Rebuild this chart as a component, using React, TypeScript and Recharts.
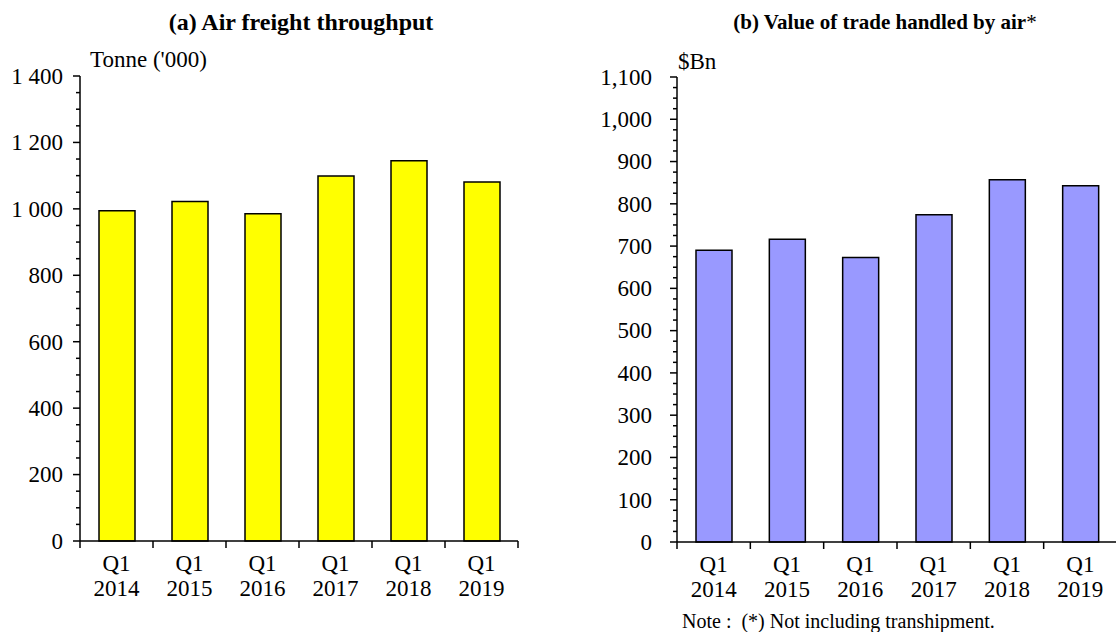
import React from 'react';
import { BarChart, Bar, XAxis, YAxis } from 'recharts';

const periods = ['Q1 2014', 'Q1 2015', 'Q1 2016', 'Q1 2017', 'Q1 2018', 'Q1 2019'];
const freightTonnes = [994, 1022, 985, 1099, 1145, 1081];
const tradeValueBn = [690, 716, 673, 774, 857, 843];
const freightTicks = [0, 50, 100, 150, 200, 250, 300, 350, 400, 450, 500, 550, 600, 650, 700, 750, 800, 850, 900, 950, 1000, 1050, 1100, 1150, 1200, 1250, 1300, 1350, 1400];
const tradeTicks = [0, 25, 50, 75, 100, 125, 150, 175, 200, 225, 250, 275, 300, 325, 350, 375, 400, 425, 450, 475, 500, 525, 550, 575, 600, 625, 650, 675, 700, 725, 750, 775, 800, 825, 850, 875, 900, 925, 950, 975, 1000, 1025, 1050, 1075, 1100];

const freightData = periods.map((p, i) => ({ period: p, value: freightTonnes[i] }));
const tradeData = periods.map((p, i) => ({ period: p, value: tradeValueBn[i] }));

const FONT = '"Liberation Serif", "Times New Roman", serif';

const fmtSpace = (v: number) =>
  v >= 1000 ? `${Math.floor(v / 1000)} ${String(v % 1000).padStart(3, '0')}` : String(v);
const fmtComma = (v: number) => v.toLocaleString('en-US');

const makeYTick = (majorStep: number, fmt: (v: number) => string, gap: number) => (props: any) => {
  const { x, y, payload } = props;
  const v = Number(payload.value);
  const major = v % majorStep === 0;
  return (
    <g>
      <line x1={x - (major ? 7 : 4)} x2={x} y1={y} y2={y} stroke="#000" strokeWidth={1.5} />
      {major && (
        <text x={x - gap} y={y} dy="0.34em" textAnchor="end" fontFamily={FONT} fontSize={23} fill="#000">
          {fmt(v)}
        </text>
      )}
    </g>
  );
};

const XTick = (props: any) => {
  const { x, y, payload, index, visibleTicksCount } = props;
  const half = payload && payload.offset ? payload.offset : 36.5;
  const parts = String(payload.value).split(' ');
  const isLast = visibleTicksCount ? index === visibleTicksCount - 1 : payload.value === periods[periods.length - 1];
  return (
    <g>
      <line x1={x - half} x2={x - half} y1={y} y2={y + 7} stroke="#000" strokeWidth={1.5} />
      {isLast && <line x1={x + half} x2={x + half} y1={y} y2={y + 7} stroke="#000" strokeWidth={1.5} />}
      <text x={x} y={y + 30} textAnchor="middle" fontFamily={FONT} fontSize={23} fill="#000">
        <tspan x={x}>{parts[0]}</tspan>
        <tspan x={x} dy={25}>{parts[1]}</tspan>
      </text>
    </g>
  );
};

const axisLine = { stroke: '#000', strokeWidth: 1.5 };

export default function App() {
  return (
    <div style={{ position: 'absolute', left: 0, top: 0, width: 1116, height: 632, overflow: 'hidden', background: '#fff', fontFamily: FONT }}>
      <div style={{ position: 'absolute', left: 0, top: 8, width: 602, textAlign: 'center', fontWeight: 'bold', fontSize: 24, lineHeight: '28px', whiteSpace: 'nowrap' }}>
        (a) Air freight throughput
      </div>
      <div style={{ position: 'absolute', left: 585, top: 9, width: 600, textAlign: 'center', fontSize: 21, lineHeight: '26px', whiteSpace: 'nowrap' }}>
        <b>(b) Value of trade handled by air</b>*
      </div>
      <div style={{ position: 'absolute', left: 90, top: 47, fontSize: 23, lineHeight: '26px', whiteSpace: 'nowrap' }}>Tonne ('000)</div>
      <div style={{ position: 'absolute', left: 678, top: 49, fontSize: 23, lineHeight: '26px', whiteSpace: 'nowrap' }}>$Bn</div>
      <div style={{ position: 'absolute', left: 682, top: 610, fontSize: 20, lineHeight: '22px', whiteSpace: 'pre' }}>
        {'Note :  (*) Not including transhipment.'}
      </div>

      <div style={{ position: 'absolute', left: 0, top: 0 }}>
        <BarChart width={540} height={632} data={freightData} margin={{ top: 76, right: 22, bottom: 31, left: 0 }}>
          <XAxis dataKey="period" interval={0} tickSize={0} tickMargin={0} tickLine={false} axisLine={axisLine} height={60} tick={<XTick />} />
          <XAxis xAxisId="top" dataKey="period" orientation="top" tick={false} tickLine={false} axisLine={axisLine} height={0} />
          <YAxis domain={[0, 1400]} ticks={freightTicks} interval={0} tickSize={0} tickMargin={0} tickLine={false} axisLine={axisLine} width={80} tick={makeYTick(200, fmtSpace, 17)} />
          <YAxis yAxisId="right" orientation="right" domain={[0, 1400]} tick={false} tickLine={false} axisLine={axisLine} width={0} />
          <Bar dataKey="value" fill="#FFFF00" stroke="#000" strokeWidth={1.5} barSize={36} isAnimationActive={false} />
        </BarChart>
      </div>

      <div style={{ position: 'absolute', left: 560, top: 0 }}>
        <BarChart width={560} height={632} data={tradeData} margin={{ top: 77, right: 3, bottom: 30, left: 0 }}>
          <XAxis dataKey="period" interval={0} tickSize={0} tickMargin={0} tickLine={false} axisLine={axisLine} height={60} tick={<XTick />} />
          <XAxis xAxisId="top" dataKey="period" orientation="top" tick={false} tickLine={false} axisLine={axisLine} height={0} />
          <YAxis domain={[0, 1100]} ticks={tradeTicks} interval={0} tickSize={0} tickMargin={0} tickLine={false} axisLine={axisLine} width={117} tick={makeYTick(100, fmtComma, 25)} />
          <YAxis yAxisId="right" orientation="right" domain={[0, 1100]} tick={false} tickLine={false} axisLine={axisLine} width={0} />
          <Bar dataKey="value" fill="#9999FF" stroke="#000" strokeWidth={1.5} barSize={36} isAnimationActive={false} />
        </BarChart>
      </div>
    </div>
  );
}
